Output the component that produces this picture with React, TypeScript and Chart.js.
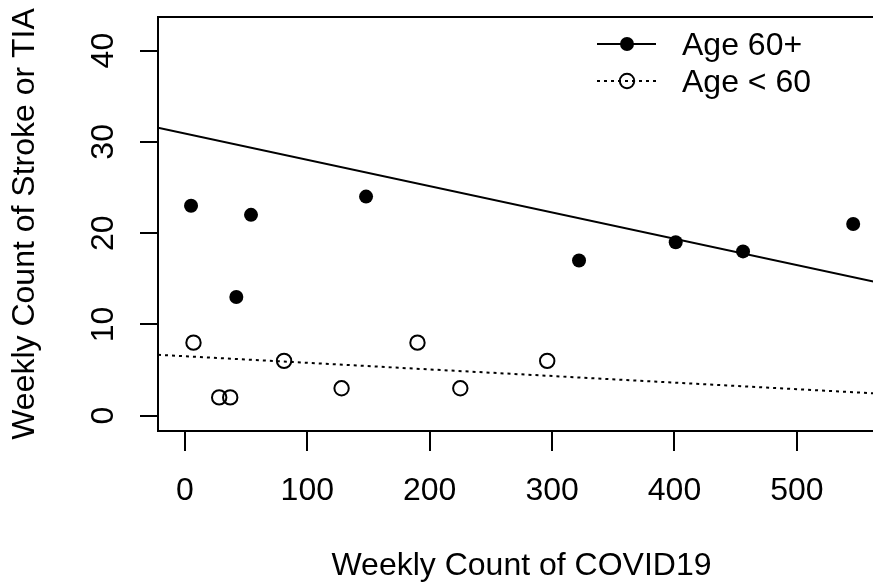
import React, { useEffect, useRef } from "react";
import { Chart, registerables } from "chart.js";

Chart.register(...registerables);

// ---- data ----
const xTicks = [0, 100, 200, 300, 400, 500];
const yTicks = [0, 10, 20, 30, 40];
const xRange = [-22, 572];
const yRange = [-1.68, 43.68];

const olderLabel = "Age 60+";
const youngerLabel = "Age < 60";

const olderX = [5, 42, 54, 148, 322, 401, 456, 546];
const olderY = [23, 13, 22, 24, 17, 19, 18, 21];
const youngerX = [7, 28, 37, 81, 128, 190, 225, 296];
const youngerY = [8, 2, 2, 6, 3, 8, 3, 6];

// fitted lines (end points across the plotting region)
const fitX = [-22, 572];
const olderFitY = [31.54, 14.42];
const youngerFitY = [6.67, 2.38];

const xTitle = "Weekly Count of COVID19";
const yTitle = "Weekly Count of Stroke or TIA";

const FONT = "'Liberation Sans', Arial, Helvetica, sans-serif";
const FS = 32;

const toPts = (xs: number[], ys: number[]) => xs.map((x, i) => ({ x, y: ys[i] }));

const frameAndLabels = {
  id: "frameAndLabels",
  afterDraw(chart: any) {
    const { ctx, chartArea } = chart;
    const ys = chart.scales.y;
    ctx.save();
    // top edge of the box
    ctx.strokeStyle = "#000";
    ctx.lineWidth = 2;
    ctx.beginPath();
    ctx.moveTo(chartArea.left - 1, chartArea.top);
    ctx.lineTo(chartArea.right, chartArea.top);
    ctx.stroke();
    // rotated y tick labels (R style)
    ctx.fillStyle = "#000";
    ctx.font = `${FS}px ${FONT}`;
    ctx.textAlign = "center";
    ctx.textBaseline = "alphabetic";
    ys.ticks.forEach((t: any) => {
      const py = ys.getPixelForValue(t.value);
      ctx.save();
      ctx.translate(113, py);
      ctx.rotate(-Math.PI / 2);
      ctx.fillText(String(t.value), 0, 0);
      ctx.restore();
    });
    // legend
    const entries = [
      { label: olderLabel, dash: [] as number[], filled: true },
      { label: youngerLabel, dash: [3, 4], filled: false },
    ];
    entries.forEach((e, i) => {
      const cy = 44 + i * 37;
      ctx.save();
      ctx.strokeStyle = "#000";
      ctx.lineWidth = 2;
      ctx.setLineDash(e.dash);
      ctx.beginPath();
      ctx.moveTo(597, cy);
      ctx.lineTo(656, cy);
      ctx.stroke();
      ctx.setLineDash([]);
      ctx.beginPath();
      ctx.arc(627, cy, e.filled ? 7 : 7.2, 0, Math.PI * 2);
      if (e.filled) {
        ctx.fillStyle = "#000";
        ctx.fill();
      } else {
        ctx.lineWidth = 2;
        ctx.stroke();
      }
      ctx.restore();
      ctx.fillStyle = "#000";
      ctx.textAlign = "left";
      ctx.textBaseline = "alphabetic";
      ctx.font = `${FS}px ${FONT}`;
      ctx.fillText(e.label, 682, cy + 10.5);
    });
    ctx.restore();
  },
};

export default function App() {
  const ref = useRef<HTMLCanvasElement | null>(null);

  useEffect(() => {
    if (!ref.current) return;
    Chart.defaults.font.family = FONT;
    Chart.defaults.color = "#000";
    const chart = new Chart(ref.current, {
      type: "scatter",
      data: {
        datasets: [
          {
            label: olderLabel,
            data: toPts(olderX, olderY),
            pointRadius: 7,
            pointHoverRadius: 7,
            backgroundColor: "#000",
            borderColor: "#000",
            borderWidth: 0,
          },
          {
            label: youngerLabel,
            data: toPts(youngerX, youngerY),
            pointRadius: 7.2,
            pointHoverRadius: 7.2,
            backgroundColor: "rgba(0,0,0,0)",
            borderColor: "#000",
            borderWidth: 2,
          },
          {
            type: "line",
            label: olderLabel + " fit",
            data: toPts(fitX, olderFitY),
            showLine: true,
            pointRadius: 0,
            borderColor: "#000",
            borderWidth: 2,
            fill: false,
          },
          {
            type: "line",
            label: youngerLabel + " fit",
            data: toPts(fitX, youngerFitY),
            showLine: true,
            pointRadius: 0,
            borderColor: "#000",
            borderWidth: 2,
            borderDash: [3, 4],
            fill: false,
          },
        ] as any,
      },
      options: {
        animation: false,
        responsive: false,
        devicePixelRatio: 1,
        layout: { padding: { top: 17, right: 15, left: 0, bottom: 0 } },
        plugins: { legend: { display: false }, tooltip: { enabled: false } },
        scales: {
          x: {
            type: "linear",
            position: "bottom",
            min: xRange[0],
            max: xRange[1],
            afterBuildTicks: (s: any) => {
              s.ticks = xTicks.map((v) => ({ value: v }));
            },
            afterFit: (s: any) => {
              s.height = 156;
            },
            ticks: {
              font: { size: FS, family: FONT },
              color: "#000",
              padding: 21,
              maxRotation: 0,
              minRotation: 0,
              autoSkip: false,
            },
            grid: {
              drawOnChartArea: false,
              drawTicks: true,
              tickLength: 20,
              color: "#000",
              lineWidth: 2,
            },
            border: { display: true, color: "#000", width: 2 },
            title: {
              display: true,
              text: xTitle,
              font: { size: FS, family: FONT },
              color: "#000",
              padding: { top: 0, bottom: 2 },
            },
          },
          y: {
            type: "linear",
            position: "left",
            min: yRange[0],
            max: yRange[1],
            afterBuildTicks: (s: any) => {
              s.ticks = yTicks.map((v) => ({ value: v }));
            },
            afterFit: (s: any) => {
              s.width = 158;
            },
            ticks: { display: false },
            grid: {
              drawOnChartArea: false,
              drawTicks: true,
              tickLength: 18,
              color: "#000",
              lineWidth: 2,
            },
            border: { display: true, color: "#000", width: 2 },
            title: {
              display: true,
              text: yTitle,
              font: { size: FS, family: FONT },
              color: "#000",
              padding: { top: 6, bottom: 0 },
            },
          },
        },
      } as any,
      plugins: [frameAndLabels],
    });
    return () => chart.destroy();
  }, []);

  return (
    <div
      style={{
        position: "fixed",
        left: 0,
        top: 0,
        width: 873,
        height: 587,
        overflow: "hidden",
        background: "#fff",
      }}
    >
      <canvas ref={ref} width={900} height={587} style={{ display: "block" }} />
    </div>
  );
}
